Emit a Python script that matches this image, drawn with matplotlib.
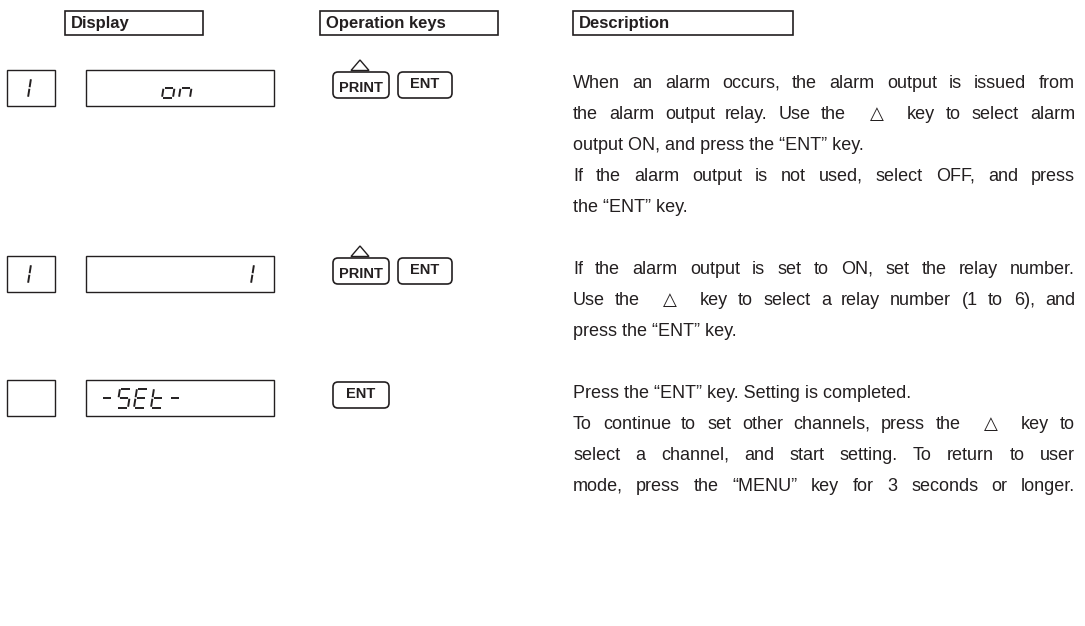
#!/usr/bin/env python3
"""Alarm output setting steps: display, operation keys and description."""

import matplotlib

matplotlib.use("Agg")
import matplotlib.pyplot as plt
from matplotlib.font_manager import FontProperties
from matplotlib.patches import FancyBboxPatch, Polygon, Rectangle

W, H = 1085, 626
INK = "#231f20"
FONT = "Liberation Sans"
SYMBOL_FONT = "DejaVu Sans"

headers = ["Display", "Operation keys", "Description"]
channel_digits = ["1", "1", ""]
display_texts = ["on", "1", "-SEt-"]
key_sets = [["PRINT", "ENT"], ["PRINT", "ENT"], ["ENT"]]
has_up_key = [True, True, False]

# (line, justified)
description = [
    [
        ("When an alarm occurs, the alarm output is issued from", True),
        ("the alarm output relay. Use the △ key to select alarm", True),
        ("output ON, and press the “ENT” key.", False),
        ("If the alarm output is not used, select OFF, and press", True),
        ("the “ENT” key.", False),
    ],
    [
        ("If the alarm output is set to ON, set the relay number.", True),
        ("Use the △ key to select a relay number (1 to 6), and", True),
        ("press the “ENT” key.", False),
    ],
    [
        ("Press the “ENT” key. Setting is completed.", False),
        ("To continue to set other channels, press the △ key to", True),
        ("select a channel, and start setting. To return to user", True),
        ("mode, press the “MENU” key for 3 seconds or longer.", True),
    ],
]

# 7-segment layout: segments as (u0, v0, u1, v1) in a 1 x 2 cell
SEGMENTS = {
    "a": (0, 2, 1, 2), "b": (1, 2, 1, 1), "c": (1, 1, 1, 0), "d": (0, 0, 1, 0),
    "e": (0, 0, 0, 1), "f": (0, 1, 0, 2), "g": (0, 1, 1, 1),
}
CHAR_SEGS = {
    "1": "bc", "o": "cdeg", "n": "ceg", "-": "g",
    "S": "afgcd", "E": "afged", "t": "fegd",
}

LINE_STEP = 31
X_TEXT0, X_TEXT1 = 573, 1075
FS_TEXT = 13


def draw_seg_char(ax, x, ymid, ch, w=11, h=19, slant=3.0):
    def pt(u, v):
        return (x + u * w + v / 2 * slant, ymid + h / 2 - v * h / 2)

    for name in CHAR_SEGS.get(ch, ""):
        u0, v0, u1, v1 = SEGMENTS[name]
        if v0 == v1:
            p0, p1 = pt(u0 + 0.1, v0), pt(u1 - 0.1, v1)
        else:
            lo, hi = min(v0, v1) + 0.08, max(v0, v1) - 0.08
            p0, p1 = pt(u0, lo), pt(u0, hi)
        ax.plot([p0[0], p1[0]], [p0[1], p1[1]], color=INK, lw=1.4,
                solid_capstyle="butt")


def draw_seg_text(ax, x, ymid, text, pitch=17):
    for i, ch in enumerate(text):
        draw_seg_char(ax, x + i * pitch, ymid, ch)


def text_kw(word):
    family = SYMBOL_FONT if word == "△" else FONT
    return dict(fontsize=FS_TEXT, family=family, color=INK, va="baseline")


def word_width(ax, renderer, word):
    t = ax.text(0, 0, word, **text_kw(word))
    w = t.get_window_extent(renderer).width
    t.remove()
    return w


def snap_baseline(renderer, word, base):
    """Agg rounds each text bitmap by its own descent; nudge y so every
    word lands on the same pixel baseline."""
    try:
        from matplotlib.backends.backend_agg import get_hinting_flag

        kw = text_kw(word)
        font = renderer._prepare_font(FontProperties(family=kw["family"], size=FS_TEXT))
        font.set_text(word, 0, flags=get_hinting_flag())
        _, h26 = font.get_width_height()
        d26 = font.get_descent()
        d = d26 / 64.0
        top = (h26 - d26) // 64
        hgt = int(h26 / 64)

        def landed(yy):
            return round(yy + d) - hgt + top

        for k in sorted(range(-16, 17), key=abs):
            yy = base + k / 8
            if landed(yy) == base:
                return yy
    except Exception:
        pass
    return base


def draw_line(ax, renderer, y, text, justify):
    baseline = y + 6
    if not justify:
        ax.text(X_TEXT0, snap_baseline(renderer, text, baseline), text, **text_kw(text))
        return
    words = text.split(" ")
    widths = [word_width(ax, renderer, wd) for wd in words]
    weights = []
    for i in range(len(words) - 1):
        weights.append(2.2 if "△" in (words[i], words[i + 1]) else 1.0)
    unit = (X_TEXT1 - X_TEXT0 - sum(widths)) / sum(weights)
    x = X_TEXT0
    for i, wd in enumerate(words):
        ax.text(round(x), snap_baseline(renderer, wd, baseline), wd, **text_kw(wd))
        if i < len(weights):
            x += widths[i] + unit * weights[i]


def draw_key(ax, x0, x1, ytop, ybot, label, up=False):
    ax.add_patch(FancyBboxPatch((x0, ytop), x1 - x0, ybot - ytop,
                                boxstyle="round,pad=0,rounding_size=5",
                                facecolor="white", edgecolor=INK, lw=1.2))
    ty = (ytop + ybot) / 2 + (2.5 if up else -1)
    ax.text((x0 + x1) / 2, ty, label, fontsize=10.5, fontweight="bold",
            family=FONT, color=INK, ha="center", va="center")
    if up:
        cx = (x0 + x1) / 2 - 1
        ax.add_patch(Polygon([(cx - 9, ytop - 1.5), (cx + 9, ytop - 1.5), (cx, ytop - 12)],
                             closed=True, facecolor="white", edgecolor=INK, lw=1.0))


def main():
    fig = plt.figure(figsize=(W / 100, H / 100), dpi=100)
    ax = fig.add_axes([0, 0, 1, 1])
    ax.set_xlim(0, W)
    ax.set_ylim(H, 0)
    ax.axis("off")
    renderer = fig.canvas.get_renderer()

    # header boxes
    header_spans = [(65, 203), (320, 498), (573, 793)]
    for (x0, x1), label in zip(header_spans, headers):
        ax.add_patch(Rectangle((x0, 11), x1 - x0, 24, facecolor="white",
                               edgecolor=INK, lw=1.2))
        ax.text(x0 + 6, 23.5, label, fontsize=12, fontweight="bold", family=FONT,
                color=INK, va="center")

    y = 82
    for row, lines in enumerate(description):
        box_top, box_bot = y - 12, y + 24
        ymid = (box_top + box_bot) / 2
        # channel box
        ax.add_patch(Rectangle((7, box_top), 48, box_bot - box_top,
                               facecolor="white", edgecolor=INK, lw=1.0))
        if channel_digits[row]:
            draw_seg_char(ax, 17, ymid, channel_digits[row])
        # main display box
        ax.add_patch(Rectangle((86, box_top), 188, box_bot - box_top,
                               facecolor="white", edgecolor=INK, lw=1.0))
        txt = display_texts[row]
        if txt == "on":
            draw_seg_text(ax, 162, ymid, txt)
        elif txt == "1":
            draw_seg_text(ax, 240, ymid, txt)
        else:
            draw_seg_text(ax, 100, ymid, txt)

        # keys
        k_top, k_bot = y - 10, y + 16
        spans = [(333, 389), (398, 452)]
        for (kx0, kx1), key in zip(spans, key_sets[row]):
            draw_key(ax, kx0, kx1, k_top, k_bot, key,
                     up=(key == "PRINT" and has_up_key[row]))

        for text, justify in lines:
            draw_line(ax, renderer, y, text, justify)
            y += LINE_STEP
        y += LINE_STEP

    fig.savefig("out.png", dpi=100, facecolor="white")
    plt.close(fig)


if __name__ == "__main__":
    main()
